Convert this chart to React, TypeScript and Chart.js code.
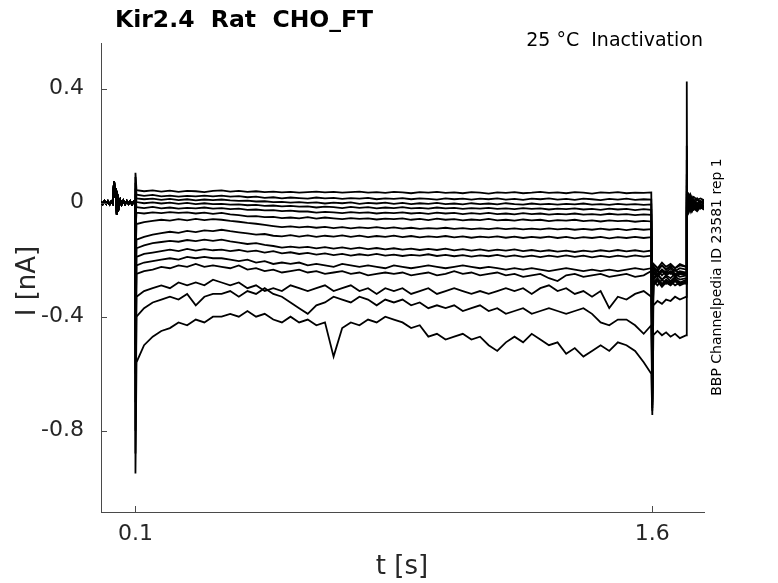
import { useEffect, useRef } from "react";
import { Chart, registerables } from "chart.js";

Chart.register(...registerables);

// ---- text ----
const TITLE = "Kir2.4  Rat  CHO_FT";
const SUBTITLE = "25 °C  Inactivation";
const SIDE_NOTE = "BBP Channelpedia ID 23581 rep 1";
const X_LABEL = "t [s]";
const Y_LABEL = "I [nA]";

// ---- axes ----
const X_TICKS = [0.1, 1.6];
const Y_TICKS = [0.4, 0, -0.4, -0.8];
const X_MIN = 0;
const X_MAX = 1.75;
const Y_MIN = -1.085;
const Y_MAX = 0.56;

// ---- sample times (s) ----
// holding before the step, identical for every sweep
const PRE_T = [0, 0.005, 0.01, 0.015, 0.02, 0.025, 0.03, 0.034, 0.038, 0.041, 0.043, 0.046, 0.049, 0.052, 0.056, 0.06, 0.065, 0.07, 0.075, 0.08, 0.085, 0.09, 0.095, 0.0995];
const PRE_I = [0.004, -0.005, 0.006, -0.004, 0.005, -0.006, 0.004, -0.003, 0.074, 0.02, 0.05, -0.042, 0.012, -0.015, 0.008, -0.006, 0.007, -0.005, 0.006, -0.004, 0.005, -0.006, 0.004, 0.001];

const STEP_T = [
  0.103, 0.125, 0.15, 0.175, 0.2, 0.225, 0.25, 0.275, 0.3, 0.325,
  0.35, 0.375, 0.4, 0.425, 0.45, 0.475, 0.5, 0.525, 0.55, 0.575,
  0.6, 0.625, 0.65, 0.675, 0.7, 0.725, 0.75, 0.775, 0.8, 0.825,
  0.85, 0.875, 0.9, 0.925, 0.95, 0.975, 1.0, 1.025, 1.05, 1.075,
  1.1, 1.125, 1.15, 1.175, 1.2, 1.225, 1.25, 1.275, 1.3, 1.325,
  1.35, 1.375, 1.4, 1.425, 1.45, 1.475, 1.5, 1.525, 1.55, 1.575,
  1.597,
];
const TAIL_T = [1.603, 1.615, 1.628, 1.64, 1.653, 1.666, 1.68, 1.699];
const POST_T = [1.701, 1.705, 1.71, 1.715, 1.72, 1.73, 1.74, 1.75];

// layout of every sweep array below:
// [on transient, 61 step samples, off transient, 8 tail samples, tail-end jump, 8 post samples]
const TRACE_T = [0.1, ...STEP_T, 1.6, ...TAIL_T, 1.7, ...POST_T];

const SWEEP_1 = [
  0.105,
  0.044, 0.040, 0.043, 0.039, 0.042, 0.038, 0.041, 0.040, 0.037, 0.041,
  0.043, 0.039, 0.041, 0.038, 0.040, 0.037, 0.039, 0.036, 0.038, 0.035,
  0.037, 0.039, 0.036, 0.038, 0.035, 0.037, 0.039, 0.035, 0.037, 0.034,
  0.038, 0.036, 0.033, 0.037, 0.035, 0.038, 0.034, 0.036, 0.033, 0.037,
  0.035, 0.032, 0.036, 0.034, 0.037, 0.033, 0.035, 0.038, 0.034, 0.036,
  0.033, 0.037, 0.035, 0.032, 0.036, 0.034, 0.037, 0.033, 0.035, 0.034,
  0.036,
  -0.32,
  -0.23, -0.25, -0.235, -0.245, -0.23, -0.25, -0.24, -0.245,
  0.425,
  0.035, 0.02, 0.03, 0.015, 0.02, 0.01, 0.015, 0.008,
];
const SWEEP_2 = [
  0.09,
  0.028, 0.024, 0.027, 0.022, 0.025, 0.021, 0.024, 0.022, 0.025, 0.022,
  0.025, 0.021, 0.023, 0.019, 0.021, 0.017, 0.019, 0.015, 0.018, 0.016,
  0.014, 0.018, 0.015, 0.017, 0.013, 0.016, 0.014, 0.017, 0.012, 0.015,
  0.013, 0.016, 0.012, 0.015, 0.013, 0.011, 0.015, 0.012, 0.014, 0.011,
  0.014, 0.012, 0.015, 0.011, 0.013, 0.010, 0.014, 0.012, 0.015, 0.011,
  0.013, 0.010, 0.014, 0.012, 0.009, 0.013, 0.011, 0.014, 0.010, 0.012,
  0.011,
  -0.4,
  -0.27, -0.255, -0.27, -0.26, -0.275, -0.26, -0.27, -0.265,
  0.2,
  0.02, 0.03, 0.01, 0.02, 0.005, 0.015, 0.0, 0.01,
];
const SWEEP_3 = [
  0.07,
  0.015, 0.012, 0.014, 0.010, 0.013, 0.009, 0.012, 0.008, 0.011, 0.009,
  0.011, 0.008, 0.006, 0.007, 0.004, 0.005, 0.002, 0.003, 0.000, 0.002,
  -0.001, 0.001, -0.003, 0.000, -0.002, 0.001, -0.004, -0.001, -0.003, 0.000,
  -0.004, -0.001, -0.005, -0.002, -0.004, -0.001, -0.005, -0.003, -0.006, -0.002,
  -0.005, -0.003, -0.006, -0.002, -0.005, -0.007, -0.003, -0.006, -0.004, -0.007,
  -0.004, -0.006, -0.003, -0.007, -0.005, -0.008, -0.004, -0.007, -0.005, -0.008,
  -0.006,
  -0.45,
  -0.215, -0.23, -0.21, -0.225, -0.215, -0.23, -0.22, -0.225,
  0.15,
  0.01, 0.025, 0.0, 0.015, -0.005, 0.01, 0.0, 0.005,
];
const SWEEP_4 = [
  0.05,
  0.002, -0.002, 0.001, -0.003, 0.000, -0.004, -0.001, -0.005, -0.002, -0.005,
  -0.004, -0.007, -0.006, -0.009, -0.008, -0.011, -0.010, -0.013, -0.011, -0.014,
  -0.013, -0.017, -0.014, -0.016, -0.019, -0.015, -0.018, -0.016, -0.020, -0.017,
  -0.019, -0.016, -0.020, -0.018, -0.021, -0.017, -0.020, -0.018, -0.022, -0.019,
  -0.021, -0.018, -0.022, -0.020, -0.023, -0.019, -0.022, -0.020, -0.024, -0.021,
  -0.023, -0.020, -0.024, -0.022, -0.025, -0.021, -0.024, -0.022, -0.026, -0.023,
  -0.025,
  -0.5,
  -0.28, -0.265, -0.285, -0.27, -0.28, -0.265, -0.28, -0.27,
  0.1,
  0.0, 0.015, -0.01, 0.005, -0.015, 0.0, -0.01, 0.0,
];
const SWEEP_5 = [
  0.03,
  -0.016, -0.019, -0.015, -0.020, -0.017, -0.021, -0.018, -0.020, -0.017, -0.021,
  -0.019, -0.023, -0.021, -0.025, -0.024, -0.027, -0.026, -0.030, -0.028, -0.031,
  -0.031, -0.035, -0.032, -0.034, -0.037, -0.033, -0.036, -0.034, -0.038, -0.035,
  -0.037, -0.034, -0.038, -0.036, -0.039, -0.035, -0.038, -0.036, -0.040, -0.037,
  -0.039, -0.036, -0.040, -0.038, -0.041, -0.037, -0.040, -0.038, -0.042, -0.039,
  -0.041, -0.038, -0.042, -0.040, -0.043, -0.039, -0.042, -0.040, -0.044, -0.041,
  -0.043,
  -0.55,
  -0.225, -0.24, -0.22, -0.235, -0.225, -0.24, -0.23, -0.235,
  0.08,
  0.015, 0.0, 0.02, -0.005, 0.01, -0.01, 0.005, -0.005,
];
const SWEEP_6 = [
  -0.1,
  -0.035, -0.038, -0.034, -0.037, -0.033, -0.036, -0.034, -0.038, -0.035, -0.039,
  -0.036, -0.041, -0.044, -0.048, -0.047, -0.051, -0.050, -0.054, -0.052, -0.055,
  -0.051, -0.056, -0.052, -0.055, -0.058, -0.054, -0.057, -0.055, -0.059, -0.056,
  -0.058, -0.055, -0.060, -0.057, -0.061, -0.056, -0.060, -0.058, -0.062, -0.059,
  -0.061, -0.057, -0.062, -0.060, -0.063, -0.059, -0.062, -0.060, -0.065, -0.061,
  -0.063, -0.060, -0.065, -0.062, -0.066, -0.062, -0.065, -0.063, -0.067, -0.064,
  -0.066,
  -0.6,
  -0.25, -0.235, -0.255, -0.24, -0.25, -0.235, -0.25, -0.245,
  0.06,
  -0.01, 0.01, -0.02, 0.0, -0.015, -0.005, -0.02, -0.01,
];
const SWEEP_7 = [
  -0.2,
  -0.075, -0.068, -0.064, -0.060, -0.063, -0.058, -0.062, -0.057, -0.061, -0.058,
  -0.060, -0.064, -0.067, -0.071, -0.074, -0.078, -0.082, -0.086, -0.083, -0.087,
  -0.084, -0.088, -0.085, -0.089, -0.086, -0.090, -0.087, -0.089, -0.086, -0.090,
  -0.087, -0.091, -0.088, -0.092, -0.089, -0.091, -0.088, -0.092, -0.089, -0.093,
  -0.090, -0.093, -0.089, -0.093, -0.090, -0.094, -0.091, -0.094, -0.090, -0.094,
  -0.091, -0.095, -0.092, -0.095, -0.091, -0.095, -0.092, -0.096, -0.092, -0.095,
  -0.093,
  -0.62,
  -0.285, -0.27, -0.29, -0.275, -0.285, -0.27, -0.285, -0.275,
  0.04,
  0.025, 0.005, 0.02, 0.0, 0.01, -0.005, 0.005, 0.0,
];
const SWEEP_8 = [
  -0.3,
  -0.130, -0.120, -0.112, -0.107, -0.102, -0.106, -0.099, -0.103, -0.097, -0.100,
  -0.095, -0.100, -0.104, -0.108, -0.112, -0.110, -0.116, -0.118, -0.114, -0.119,
  -0.115, -0.120, -0.116, -0.119, -0.115, -0.120, -0.116, -0.121, -0.117, -0.120,
  -0.116, -0.121, -0.117, -0.122, -0.118, -0.121, -0.117, -0.122, -0.118, -0.123,
  -0.119, -0.122, -0.118, -0.123, -0.119, -0.124, -0.120, -0.123, -0.119, -0.124,
  -0.120, -0.125, -0.121, -0.124, -0.120, -0.125, -0.121, -0.124, -0.120, -0.124,
  -0.121,
  -0.65,
  -0.24, -0.255, -0.235, -0.25, -0.24, -0.255, -0.245, -0.25,
  0.03,
  -0.005, -0.025, -0.01, -0.03, -0.015, -0.02, -0.01, -0.015,
];
const SWEEP_9 = [
  -0.4,
  -0.160, -0.150, -0.142, -0.138, -0.134, -0.137, -0.131, -0.135, -0.130, -0.134,
  -0.130, -0.136, -0.140, -0.145, -0.142, -0.148, -0.152, -0.158, -0.154, -0.158,
  -0.155, -0.160, -0.156, -0.161, -0.157, -0.162, -0.158, -0.163, -0.159, -0.164,
  -0.160, -0.165, -0.161, -0.166, -0.162, -0.166, -0.161, -0.167, -0.163, -0.168,
  -0.164, -0.169, -0.165, -0.168, -0.164, -0.170, -0.166, -0.171, -0.167, -0.172,
  -0.168, -0.173, -0.168, -0.172, -0.167, -0.171, -0.166, -0.171, -0.167, -0.172,
  -0.168,
  -0.67,
  -0.265, -0.25, -0.27, -0.255, -0.265, -0.25, -0.26, -0.255,
  0.02,
  0.01, -0.01, 0.015, -0.015, 0.0, -0.01, 0.005, -0.005,
];
const SWEEP_10 = [
  -0.5,
  -0.190, -0.180, -0.175, -0.170, -0.165, -0.170, -0.162, -0.168, -0.163, -0.167,
  -0.165, -0.170, -0.166, -0.172, -0.168, -0.175, -0.170, -0.178, -0.174, -0.180,
  -0.176, -0.182, -0.178, -0.184, -0.180, -0.186, -0.181, -0.185, -0.180, -0.186,
  -0.182, -0.187, -0.183, -0.186, -0.181, -0.187, -0.183, -0.188, -0.184, -0.189,
  -0.185, -0.188, -0.183, -0.189, -0.185, -0.190, -0.186, -0.191, -0.186, -0.190,
  -0.185, -0.190, -0.186, -0.192, -0.187, -0.191, -0.186, -0.190, -0.185, -0.189,
  -0.186,
  -0.69,
  -0.215, -0.23, -0.22, -0.235, -0.22, -0.23, -0.215, -0.225,
  0.01,
  -0.02, 0.0, -0.025, -0.005, -0.02, -0.01, -0.015, -0.01,
];
const SWEEP_11 = [
  -0.6,
  -0.220, -0.210, -0.205, -0.200, -0.195, -0.200, -0.190, -0.195, -0.190, -0.195,
  -0.195, -0.200, -0.205, -0.200, -0.210, -0.205, -0.215, -0.210, -0.215, -0.210,
  -0.220, -0.215, -0.220, -0.225, -0.215, -0.220, -0.225, -0.220, -0.225, -0.230,
  -0.220, -0.225, -0.230, -0.225, -0.220, -0.225, -0.230, -0.225, -0.220, -0.225,
  -0.230, -0.225, -0.230, -0.235, -0.230, -0.235, -0.230, -0.235, -0.240, -0.235,
  -0.230, -0.235, -0.240, -0.235, -0.240, -0.235, -0.240, -0.235, -0.230, -0.235,
  -0.230,
  -0.7,
  -0.275, -0.29, -0.27, -0.285, -0.275, -0.29, -0.28, -0.285,
  0.0,
  0.005, -0.015, 0.01, -0.02, 0.0, -0.015, -0.005, -0.01,
];
const SWEEP_12 = [
  -0.7,
  -0.250, -0.240, -0.235, -0.225, -0.230, -0.220, -0.225, -0.215, -0.225, -0.220,
  -0.225, -0.230, -0.220, -0.235, -0.230, -0.240, -0.235, -0.245, -0.240, -0.235,
  -0.245, -0.240, -0.250, -0.245, -0.240, -0.250, -0.245, -0.255, -0.250, -0.245,
  -0.250, -0.245, -0.255, -0.250, -0.245, -0.255, -0.250, -0.240, -0.250, -0.245,
  -0.255, -0.250, -0.245, -0.255, -0.250, -0.260, -0.255, -0.250, -0.265, -0.275,
  -0.255, -0.250, -0.260, -0.255, -0.250, -0.260, -0.255, -0.250, -0.260, -0.255,
  -0.240,
  -0.71,
  -0.245, -0.26, -0.24, -0.255, -0.245, -0.26, -0.25, -0.255,
  -0.01,
  -0.025, -0.005, -0.03, -0.01, -0.025, -0.015, -0.02, -0.015,
];
const SWEEP_13 = [
  -0.8,
  -0.330, -0.310, -0.300, -0.290, -0.300, -0.280, -0.290, -0.280, -0.290, -0.270,
  -0.280, -0.290, -0.280, -0.300, -0.290, -0.310, -0.300, -0.310, -0.290, -0.300,
  -0.310, -0.300, -0.290, -0.310, -0.300, -0.290, -0.310, -0.300, -0.320, -0.300,
  -0.310, -0.300, -0.320, -0.310, -0.300, -0.320, -0.310, -0.300, -0.310, -0.320,
  -0.310, -0.320, -0.310, -0.300, -0.310, -0.300, -0.320, -0.300, -0.290, -0.310,
  -0.300, -0.320, -0.310, -0.330, -0.310, -0.370, -0.330, -0.340, -0.320, -0.310,
  -0.330,
  -0.72,
  -0.29, -0.275, -0.295, -0.28, -0.29, -0.275, -0.29, -0.28,
  -0.02,
  0.0, -0.02, 0.005, -0.025, -0.01, -0.02, -0.005, -0.015,
];
const SWEEP_14 = [
  -0.88,
  -0.400, -0.370, -0.350, -0.340, -0.330, -0.340, -0.320, -0.360, -0.330, -0.320,
  -0.320, -0.310, -0.330, -0.310, -0.320, -0.300, -0.320, -0.330, -0.350, -0.370,
  -0.390, -0.360, -0.350, -0.330, -0.340, -0.350, -0.330, -0.340, -0.360, -0.340,
  -0.350, -0.340, -0.360, -0.350, -0.370, -0.360, -0.370, -0.360, -0.380, -0.370,
  -0.360, -0.380, -0.370, -0.390, -0.380, -0.370, -0.390, -0.380, -0.370, -0.380,
  -0.390, -0.380, -0.370, -0.390, -0.420, -0.430, -0.410, -0.410, -0.430, -0.460,
  -0.430,
  -0.73,
  -0.36, -0.345, -0.355, -0.34, -0.345, -0.33, -0.34, -0.33,
  -0.03,
  -0.015, -0.03, -0.01, -0.025, -0.015, -0.025, -0.01, -0.02,
];
const SWEEP_15 = [
  -0.95,
  -0.56, -0.50, -0.47, -0.45, -0.44, -0.42, -0.43, -0.41, -0.42, -0.40,
  -0.40, -0.39, -0.40, -0.38, -0.40, -0.39, -0.41, -0.42, -0.40, -0.42,
  -0.41, -0.43, -0.42, -0.54, -0.44, -0.42, -0.43, -0.41, -0.42, -0.40,
  -0.41, -0.42, -0.44, -0.43, -0.47, -0.46, -0.48, -0.47, -0.46, -0.48,
  -0.47, -0.50, -0.52, -0.49, -0.47, -0.49, -0.46, -0.48, -0.50, -0.49,
  -0.53, -0.51, -0.54, -0.52, -0.50, -0.52, -0.49, -0.50, -0.52, -0.56,
  -0.60,
  -0.745,
  -0.465, -0.45, -0.465, -0.455, -0.47, -0.46, -0.475, -0.465,
  -0.04,
  -0.02, -0.035, -0.015, -0.03, -0.02, -0.03, -0.015, -0.025,
];

const SWEEPS = [
  SWEEP_1, SWEEP_2, SWEEP_3, SWEEP_4, SWEEP_5, SWEEP_6, SWEEP_7, SWEEP_8,
  SWEEP_9, SWEEP_10, SWEEP_11, SWEEP_12, SWEEP_13, SWEEP_14, SWEEP_15,
];

const FONT = '"DejaVu Sans", "Liberation Sans", sans-serif';
const AXIS_COLOR = "#4a4a4a";
const TEXT_COLOR = "#262626";

// inward tick marks and the free-standing texts
const decorations = {
  id: "decorations",
  afterDraw(chart: Chart) {
    const { ctx, chartArea } = chart;
    const xs = chart.scales.x;
    const ys = chart.scales.y;
    ctx.save();
    ctx.strokeStyle = AXIS_COLOR;
    ctx.lineWidth = 1;
    Y_TICKS.forEach((v) => {
      const y = Math.round(ys.getPixelForValue(v)) + 0.5;
      ctx.beginPath();
      ctx.moveTo(chartArea.left, y);
      ctx.lineTo(chartArea.left + 6, y);
      ctx.stroke();
    });
    X_TICKS.forEach((v) => {
      const x = Math.round(xs.getPixelForValue(v)) + 0.5;
      ctx.beginPath();
      ctx.moveTo(x, chartArea.bottom);
      ctx.lineTo(x, chartArea.bottom - 6);
      ctx.stroke();
    });

    ctx.fillStyle = "#000";
    ctx.font = `bold 23.5px ${FONT}`;
    ctx.textAlign = "left";
    ctx.textBaseline = "alphabetic";
    ctx.fillText(TITLE, 115, 27);

    ctx.font = `19px ${FONT}`;
    ctx.textAlign = "right";
    ctx.textBaseline = "middle";
    ctx.fillText(SUBTITLE, 703, 41);

    ctx.fillStyle = TEXT_COLOR;
    ctx.font = `26px ${FONT}`;
    ctx.textAlign = "center";
    ctx.fillText(X_LABEL, 402, 567);

    ctx.save();
    ctx.translate(28, 281);
    ctx.rotate(-Math.PI / 2);
    ctx.fillText(Y_LABEL, 0, 0);
    ctx.restore();

    ctx.fillStyle = "#000";
    ctx.save();
    ctx.translate(717, 277);
    ctx.rotate(-Math.PI / 2);
    ctx.font = `14px ${FONT}`;
    ctx.fillText(SIDE_NOTE, 0, 0);
    ctx.restore();

    ctx.restore();
  },
};

export default function App() {
  const canvasRef = useRef<HTMLCanvasElement>(null);

  useEffect(() => {
    if (!canvasRef.current) return;

    const times = [...PRE_T, ...TRACE_T];
    const datasets = SWEEPS.map((sweep, i) => ({
      label: `sweep ${i + 1}`,
      data: [...PRE_I, ...sweep].map((y, k) => ({ x: times[k], y })),
      borderColor: "#000",
      borderWidth: 1.8,
      pointRadius: 0,
      tension: 0,
      fill: false,
    }));

    const chart = new Chart(canvasRef.current, {
      type: "line",
      data: { datasets },
      options: {
        responsive: false,
        animation: false,
        events: [],
        layout: { padding: { left: 0, top: 43, right: 74, bottom: 0 } },
        plugins: {
          legend: { display: false },
          tooltip: { enabled: false },
        },
        scales: {
          x: {
            type: "linear",
            min: X_MIN,
            max: X_MAX,
            afterFit: (s: any) => { s.height = 71; },
            afterBuildTicks: (s: any) => { s.ticks = X_TICKS.map((value) => ({ value })); },
            grid: { display: false, drawTicks: false },
            border: { display: true, color: AXIS_COLOR, width: 1 },
            ticks: {
              padding: 9,
              color: TEXT_COLOR,
              font: { family: FONT, size: 22 },
              maxRotation: 0,
              callback: (v: any) => String(v),
            },
          },
          y: {
            type: "linear",
            min: Y_MIN,
            max: Y_MAX,
            afterFit: (s: any) => { s.width = 101; },
            afterBuildTicks: (s: any) => { s.ticks = Y_TICKS.map((value) => ({ value })); },
            grid: { display: false, drawTicks: false },
            border: { display: true, color: AXIS_COLOR, width: 1 },
            ticks: {
              padding: 17,
              color: TEXT_COLOR,
              font: { family: FONT, size: 22 },
              callback: (v: any) => String(v),
            },
          },
        },
      },
      plugins: [decorations],
    });

    return () => chart.destroy();
  }, []);

  return (
    <div style={{ position: "fixed", left: 0, top: 0, width: 778, height: 583, background: "#fff" }}>
      <canvas ref={canvasRef} width={778} height={583} />
    </div>
  );
}
